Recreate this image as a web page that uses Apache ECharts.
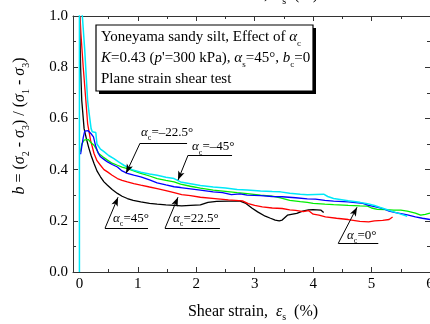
<!DOCTYPE html>
<html>
<head>
<meta charset="utf-8">
<script src="https://cdn.jsdelivr.net/npm/echarts@6/dist/echarts.min.js"></script>
<style>
html, body { margin: 0; padding: 0; background: #fff; }
#chart { width: 430px; height: 324px; }
</style>
</head>
<body>
<div id="chart"></div>
<script>
var F = 'Liberation Serif';

// axis ticks
var xMajor = [0, 1, 2, 3, 4, 5, 6];
var xMinor = [0.5, 1.5, 2.5, 3.5, 4.5, 5.5];

// b value vs shear strain (%), one array per alpha_c
var curve45 = [[0.005,1.0],[0.02,0.80],[0.04,0.67],[0.08,0.56],[0.12,0.52],[0.16,0.485],[0.20,0.455],[0.25,0.424],[0.30,0.395],[0.36,0.372],[0.42,0.352],[0.48,0.339],[0.56,0.322],[0.65,0.307],[0.73,0.296],[0.82,0.287],[0.92,0.28],[1.05,0.274],[1.2,0.268],[1.33,0.265],[1.48,0.262],[1.62,0.26],[1.75,0.258],[1.9,0.26],[2.07,0.262],[2.2,0.272],[2.35,0.276],[2.55,0.277],[2.75,0.277],[2.85,0.268],[2.95,0.25],[3.05,0.235],[3.18,0.218],[3.27,0.21],[3.35,0.203],[3.42,0.2],[3.47,0.203],[3.56,0.222],[3.65,0.226],[3.72,0.229],[3.82,0.238],[3.92,0.243],[4.0,0.244],[4.13,0.242],[4.18,0.232]];
var curve22 = [[0.01,1.0],[0.026,0.93],[0.065,0.80],[0.11,0.67],[0.14,0.58],[0.19,0.515],[0.25,0.463],[0.30,0.435],[0.36,0.417],[0.42,0.40],[0.48,0.391],[0.56,0.378],[0.65,0.365],[0.73,0.358],[0.82,0.352],[0.93,0.345],[1.05,0.339],[1.2,0.332],[1.33,0.326],[1.48,0.318],[1.62,0.31],[1.75,0.302],[1.9,0.298],[2.07,0.292],[2.32,0.287],[2.55,0.282],[2.79,0.278],[2.89,0.267],[3.0,0.26],[3.13,0.254],[3.3,0.25],[3.47,0.248],[3.6,0.243],[3.70,0.241],[3.83,0.236],[3.92,0.24],[4.0,0.226],[4.1,0.222],[4.21,0.215],[4.4,0.21],[4.6,0.205],[4.8,0.198],[4.95,0.196],[5.05,0.2],[5.19,0.202],[5.3,0.205],[5.36,0.215]];
var curve0 = [[0.02,0.47],[0.04,0.50],[0.08,0.515],[0.11,0.52],[0.15,0.518],[0.2,0.505],[0.25,0.495],[0.29,0.48],[0.33,0.463],[0.4,0.45],[0.48,0.437],[0.56,0.425],[0.65,0.417],[0.73,0.41],[0.82,0.404],[0.93,0.395],[1.05,0.385],[1.2,0.375],[1.33,0.365],[1.48,0.358],[1.62,0.352],[1.73,0.343],[1.9,0.335],[2.07,0.328],[2.29,0.32],[2.5,0.315],[2.7,0.31],[2.87,0.306],[3.1,0.3],[3.3,0.296],[3.44,0.29],[3.6,0.28],[3.78,0.275],[3.9,0.272],[4.0,0.268],[4.2,0.265],[4.35,0.263],[4.6,0.26],[4.8,0.258],[4.93,0.257],[5.0,0.25],[5.1,0.245],[5.25,0.244],[5.38,0.242],[5.5,0.242],[5.61,0.238],[5.75,0.23],[5.84,0.222],[5.92,0.225],[6.0,0.23]];
var curveM22 = [[0.02,0.46],[0.04,0.49],[0.065,0.525],[0.09,0.55],[0.15,0.552],[0.2,0.54],[0.24,0.528],[0.28,0.49],[0.32,0.465],[0.36,0.45],[0.42,0.44],[0.48,0.43],[0.56,0.42],[0.65,0.41],[0.73,0.395],[0.82,0.385],[0.93,0.378],[1.05,0.372],[1.2,0.36],[1.33,0.348],[1.48,0.34],[1.62,0.333],[1.73,0.33],[1.9,0.325],[2.07,0.32],[2.29,0.313],[2.45,0.31],[2.6,0.302],[2.75,0.305],[2.87,0.30],[3.1,0.298],[3.3,0.295],[3.47,0.294],[3.7,0.29],[3.9,0.286],[4.04,0.285],[4.2,0.28],[4.35,0.277],[4.6,0.274],[4.85,0.268],[4.95,0.26],[5.05,0.255],[5.19,0.248],[5.3,0.238],[5.41,0.232],[5.55,0.226],[5.63,0.222],[5.75,0.215],[5.87,0.21],[6.0,0.205]];
var curveM45 = [[0,0],[0,1.1],[0.05,1.0],[0.09,0.87],[0.12,0.75],[0.14,0.67],[0.16,0.63],[0.2,0.56],[0.22,0.548],[0.28,0.545],[0.3,0.5],[0.36,0.48],[0.42,0.47],[0.5,0.455],[0.59,0.443],[0.67,0.43],[0.76,0.417],[0.9,0.4],[1.05,0.39],[1.2,0.383],[1.33,0.378],[1.48,0.37],[1.62,0.365],[1.73,0.352],[1.9,0.345],[2.07,0.338],[2.29,0.332],[2.5,0.328],[2.7,0.322],[2.87,0.32],[3.1,0.316],[3.3,0.314],[3.44,0.313],[3.6,0.308],[3.78,0.304],[3.9,0.302],[4.18,0.304],[4.25,0.295],[4.35,0.287],[4.6,0.278],[4.8,0.272],[4.93,0.267],[5.05,0.26],[5.15,0.252],[5.27,0.243],[5.38,0.235],[5.5,0.226],[5.61,0.218]];

// annotations: label, text start, underline, arrow tip (data coords)
var annoText = ['=–22.5°', '=–45°', '=45°', '=22.5°', '=0°'];
var annoTextAt = [[1.054, 0.546], [1.927, 0.488], [0.575, 0.21], [1.602, 0.21], [4.58, 0.1435]];
var annoLineFrom = [[1.037, 0.503], [1.859, 0.456], [0.438, 0.171], [1.465, 0.171], [4.43, 0.112]];
var annoLineTo = [[1.842, 0.503], [2.612, 0.456], [1.174, 0.171], [2.405, 0.171], [5.115, 0.112]];
var annoTip = [[0.798, 0.386], [1.687, 0.359], [0.661, 0.292], [1.687, 0.292], [4.751, 0.253]];

function richSet(size, lh) {
	return {
		n: { fontFamily: F, fontSize: size, color: '#000', lineHeight: lh },
		i: { fontFamily: F, fontSize: size, fontStyle: 'italic', color: '#000', lineHeight: lh },
		s: { fontFamily: F, fontSize: Math.round(size * 0.62), color: '#000', lineHeight: 9, verticalAlign: 'bottom' }
	};
}

function xAxisDef(pos, ticks, len, showLine, showLabel) {
	return {
		type: 'value', position: pos, min: -0.11, max: 6,
		axisLine: { show: showLine, onZero: false, lineStyle: { color: '#333', width: 1 } },
		axisTick: { inside: true, length: len, customValues: ticks, lineStyle: { color: '#333', width: 1 } },
		axisLabel: { show: showLabel, customValues: ticks, margin: 5, fontFamily: F, fontSize: 15, color: '#000' },
		splitLine: { show: false }
	};
}

function yAxisDef(pos, showLabel) {
	return {
		type: 'value', position: pos, min: 0, max: 1, interval: 0.2,
		axisLine: { show: true, onZero: false, lineStyle: { color: '#333', width: 1 } },
		axisTick: { inside: true, length: 5, lineStyle: { color: '#333', width: 1 } },
		minorTick: { show: true, splitNumber: 2, length: 3, lineStyle: { color: '#333', width: 1 } },
		axisLabel: {
			show: showLabel, margin: 5, fontFamily: F, fontSize: 15, color: '#000',
			formatter: function (v) { return v.toFixed(1); }
		},
		splitLine: { show: false }
	};
}

function curveSeries(data, color, w) {
	return {
		type: 'line', data: data, symbol: 'none', showSymbol: false, clip: true,
		lineStyle: { color: color, width: w }, itemStyle: { color: color },
		silent: true
	};
}

var arrows = [];
var unders = [];
for (var k = 0; k < annoTip.length; k++) {
	arrows.push([{ coord: annoLineFrom[k], symbol: 'none' }, { coord: annoTip[k], symbol: 'arrow' }]);
	unders.push([{ coord: annoLineFrom[k], symbol: 'none' }, { coord: annoLineTo[k], symbol: 'none' }]);
}

var chart = echarts.init(document.getElementById('chart'));
chart.setOption({
	animation: false,
	grid: { left: 73, right: 0, top: 16, bottom: 52, containLabel: false, outerBoundsMode: 'none' },
	xAxis: [
		xAxisDef('bottom', xMajor, 5, true, true),
		xAxisDef('bottom', xMinor, 3, false, false),
		xAxisDef('top', xMajor, 5, true, false),
		xAxisDef('top', xMinor, 3, false, false)
	],
	yAxis: [yAxisDef('left', true), yAxisDef('right', false)],
	series: [
		curveSeries(curve45, '#000000', 1.3),
		curveSeries(curve22, '#ff0000', 1.3),
		curveSeries(curve0, '#00ee00', 1.3),
		curveSeries(curveM22, '#0000ff', 1.3),
		curveSeries(curveM45, '#00e8f8', 1.5),
		{
			type: 'line', data: [], silent: true,
			markLine: {
				silent: true, animation: false, symbolSize: [5, 9],
				label: { show: false },
				lineStyle: { color: '#000', width: 1, type: 'solid' },
				emphasis: { disabled: true },
				data: arrows.concat(unders)
			}
		}
	]
});

var graphics = [
	{ type: 'rect', shape: { x: 99, y: 28, width: 217, height: 66 }, style: { fill: '#000' }, z: 50 },
	{ type: 'rect', shape: { x: 96, y: 25, width: 217, height: 66 }, style: { fill: '#fff', stroke: '#000', lineWidth: 1.2 }, z: 51 },
	{
		type: 'text', x: 101, y: 27, z: 52,
		style: {
			text: '{n|Yoneyama sandy silt, Effect of }{i|α}{s|c}\n' +
				'{i|K}{n|=0.43 (}{i|p}{n|\'=300 kPa), }{i|α}{s|s}{n|=45°, }{i|b}{s|c}{n|=0}\n' +
				'{n|Plane strain shear test}',
			rich: richSet(15, 21), verticalAlign: 'top', align: 'left'
		}
	},
	{
		type: 'text', x: 253, y: 311.6, z: 52,
		style: { text: '{n|Shear strain,  }{i|ε}{s|s}{n|  (%)}', rich: richSet(16, 22), align: 'center', verticalAlign: 'middle' }
	},
	{
		type: 'text', x: 253, y: -5, z: 52,
		style: { text: '{n|Shear strain,  }{i|ε}{s|s}{n|  (%)}', rich: richSet(16, 22), align: 'center', verticalAlign: 'middle' }
	},
	{
		type: 'text', x: 20, y: 126, rotation: Math.PI / 2, z: 52,
		style: {
			text: '{i|b}{n| = (}{i|σ}{s|2}{n| - }{i|σ}{s|3}{n|) / (}{i|σ}{s|1}{n| - }{i|σ}{s|3}{n|)}',
			rich: richSet(16, 22), align: 'center', verticalAlign: 'middle'
		}
	}
];
for (var j = 0; j < annoText.length; j++) {
	var p = chart.convertToPixel({ xAxisIndex: 0, yAxisIndex: 0 }, annoTextAt[j]);
	graphics.push({
		type: 'text', x: p[0], y: p[1], z: 52,
		style: { text: '{i|α}{s|c}{n|' + annoText[j] + '}', rich: richSet(13, 20), align: 'left', verticalAlign: 'middle' }
	});
}
chart.setOption({ graphic: graphics });
</script>
</body>
</html>
